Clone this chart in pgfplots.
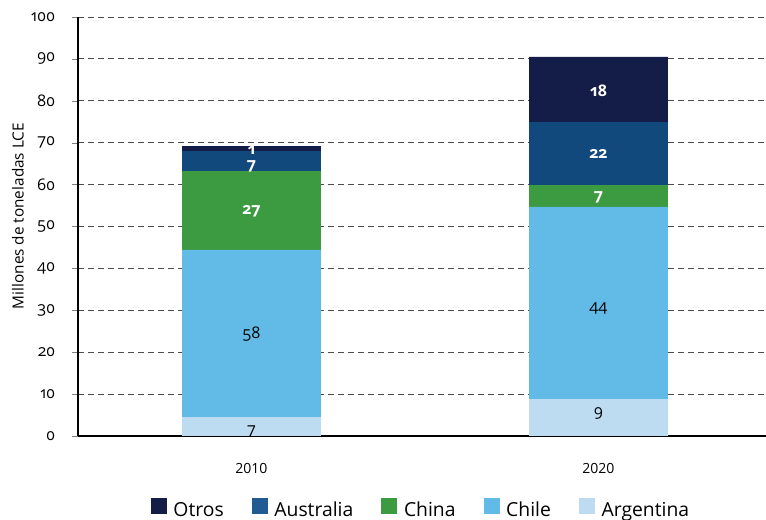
\documentclass[border=0pt]{standalone}
\usepackage{fontspec}
\setmainfont{Open Sans}[Numbers=OldStyle]
\usepackage{pgfplots}
\pgfplotsset{compat=1.18}
\definecolor{cOtros}{HTML}{141C48}
\definecolor{cAus}{HTML}{12497C}
\definecolor{cAusLeg}{HTML}{225A92}
\definecolor{cChina}{HTML}{3C9A40}
\definecolor{cChile}{HTML}{62BBE7}
\definecolor{cArg}{HTML}{BDDCF2}
\pgfplotstableread{
x  arg  chile china aus otros
0  4.5  39.9  18.8  4.8  1.2
1  8.8  45.9  5.2   15.0 15.6
}\bars
\pgfplotstableread{
x  y     lab
1  5.3   9
0  1.0   7
0  24.2  58
1  30.5  44
}\blacklabels
\pgfplotstableread{
x  y     lab
0  53.6  27
0  64.4  7
0  68.3  1
1  57.0  7
1  67.4  22
1  82.3  18
}\whitelabels
\begin{document}
\begin{tikzpicture}
\useasboundingbox (-58.5pt,-63pt) rectangle (516pt,327pt);
\pgfplotsset{common/.style={
  scale only axis, width=516pt, height=314.25pt,
  at={(0pt,0pt)}, anchor=south west,
  xmin=-0.5, xmax=1.483, ymin=0, ymax=100}}
\begin{axis}[common,
  ybar stacked, bar width=0.4,
  axis x line*=bottom, axis y line*=left,
  axis line style={line width=0.8pt},
  xtick={0,1}, xticklabels={2010,2020},
  x tick label style={font=\fontsize{10.5}{12}\selectfont\addfontfeature{Numbers=Lining}, anchor=center, yshift=-20pt},
  major x tick style={draw=none},
  extra x ticks={0.5}, extra x tick labels={},
  extra x tick style={major tick style={draw=black, line width=0.8pt}, major tick length=6.5pt, grid=none},
  ytick={0,10,...,100},
  y tick label style={font=\fontsize{12}{14}\selectfont, anchor=east, xshift=-9pt},
  /pgf/number format/assume math mode=true,
  tick align=outside, major tick length=4.5pt,
  ymajorgrids, grid style={dash pattern=on 4.5pt off 3pt, black!70, line width=0.6pt},
  ylabel={Millones de toneladas LCE},
  every axis y label/.style={at={(axis description cs:0,0.525)}, xshift=-45pt, rotate=90, anchor=center,
    font=\fontsize{11.5}{13}\selectfont},
  reverse legend,
  legend style={at={(axis description cs:0.499,-0.1766)}, anchor=center, legend columns=-1, draw=none,
    font=\fontsize{14.5}{16}\selectfont, inner sep=0pt,
    /tikz/every odd column/.append style={column sep=3pt},
    /tikz/every even column/.append style={column sep=19pt}},
  legend image code/.code={\fill[#1] (0pt,-3pt) rectangle (12pt,9pt);},
]
\addplot[fill=cArg, draw=none] table[x=x, y=arg] {\bars};
\addlegendentry{Argentina}
\addplot[fill=cChile, draw=none] table[x=x, y=chile] {\bars};
\addlegendentry{Chile}
\addplot[fill=cChina, draw=none] table[x=x, y=china] {\bars};
\addlegendentry{China}
\addplot[fill=cAus, draw=none, legend image code/.code={\fill[cAusLeg] (0pt,-3pt) rectangle (12pt,9pt);}] table[x=x, y=aus] {\bars};
\addlegendentry{Australia}
\addplot[fill=cOtros, draw=none] table[x=x, y=otros] {\bars};
\addlegendentry{Otros}
\end{axis}
\begin{axis}[common, hide axis]
\addplot[draw=none, mark=none, nodes near coords, point meta=explicit symbolic,
  every node near coord/.append style={anchor=center, inner sep=0.5pt, text=black, font=\fontsize{12}{14}\selectfont}]
  table[x=x, y=y, meta=lab] {\blacklabels};
\addplot[draw=none, mark=none, nodes near coords, point meta=explicit symbolic,
  every node near coord/.append style={anchor=center, inner sep=0.5pt, text=white, font=\fontsize{12}{14}\selectfont\bfseries}]
  table[x=x, y=y, meta=lab] {\whitelabels};
\end{axis}
\end{tikzpicture}
\end{document}
